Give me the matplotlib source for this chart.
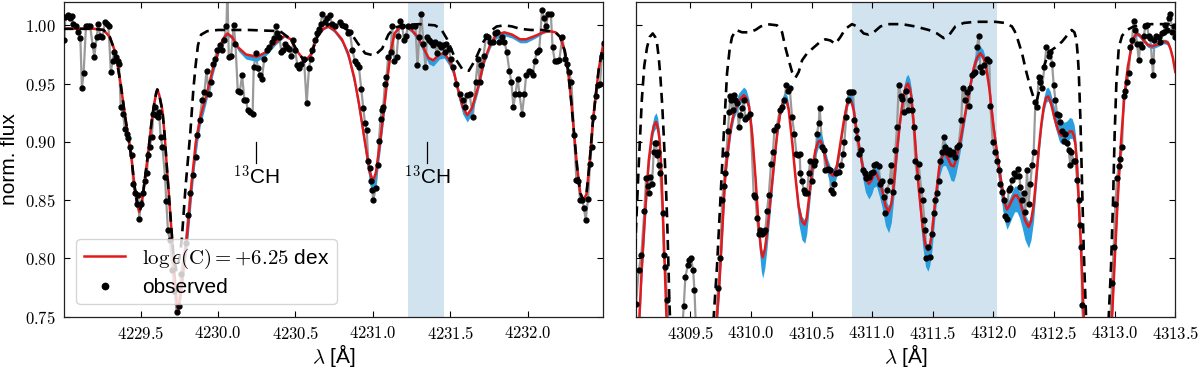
import matplotlib
matplotlib.use("Agg")
import matplotlib.pyplot as plt
from matplotlib.ticker import MultipleLocator, FuncFormatter
import numpy as np

plt.rcParams['font.family'] = ['Liberation Sans', 'DejaVu Sans']
plt.rcParams['mathtext.fontset'] = 'cm'

# ---------------- LEFT PANEL DATA ----------------
obs_l_wl = [4229.006, 4229.013, 4229.028, 4229.045, 4229.056, 4229.064, 4229.082, 4229.097, 4229.110, 4229.120,
            4229.131, 4229.146, 4229.161, 4229.174, 4229.189, 4229.200, 4229.215, 4229.227, 4229.238, 4229.253,
            4229.268, 4229.279, 4229.292, 4229.307, 4229.318, 4229.328, 4229.339, 4229.350, 4229.360, 4229.371,
            4229.386, 4229.397, 4229.410, 4229.420, 4229.431, 4229.442, 4229.451, 4229.464, 4229.474, 4229.485,
            4229.490, 4229.500, 4229.515, 4229.528, 4229.539, 4229.550, 4229.558, 4229.571, 4229.582, 4229.592,
            4229.600, 4229.612, 4229.618, 4229.629, 4229.640, 4229.657, 4229.665, 4229.676, 4229.687, 4229.705,
            4229.718, 4229.732, 4229.747, 4229.760, 4229.790, 4229.807, 4229.820, 4229.835, 4229.854, 4229.865,
            4229.880, 4229.897, 4229.912, 4229.925, 4229.940, 4229.955, 4229.966, 4229.979, 4229.994, 4230.011,
            4230.026, 4230.037, 4230.054, 4230.060, 4230.069, 4230.084, 4230.101, 4230.112, 4230.127, 4230.140,
            4230.155, 4230.170, 4230.181, 4230.191, 4230.208, 4230.223, 4230.230, 4230.245, 4230.256, 4230.273,
            4230.283, 4230.298, 4230.315, 4230.330, 4230.346, 4230.360, 4230.374, 4230.382, 4230.396, 4230.409,
            4230.422, 4230.433, 4230.448, 4230.458, 4230.473, 4230.486, 4230.497, 4230.512, 4230.525, 4230.538,
            4230.555, 4230.572, 4230.587, 4230.598, 4230.608, 4230.624, 4230.637, 4230.652, 4230.663, 4230.673,
            4230.688, 4230.705, 4230.724, 4230.734, 4230.756, 4230.788, 4230.803, 4230.820, 4230.837, 4230.852,
            4230.867, 4230.884, 4230.900, 4230.910, 4230.925, 4230.938, 4230.949, 4230.960, 4230.970, 4230.980,
            4230.988, 4230.996, 4231.002, 4231.018, 4231.030, 4231.039, 4231.050, 4231.056, 4231.067, 4231.078,
            4231.088, 4231.099, 4231.114, 4231.125, 4231.138, 4231.153, 4231.164, 4231.176, 4231.189, 4231.202,
            4231.213, 4231.228, 4231.250, 4231.275, 4231.288, 4231.300, 4231.313, 4231.327, 4231.340, 4231.350,
            4231.360, 4231.374, 4231.389, 4231.400, 4231.412, 4231.425, 4231.438, 4231.450, 4231.464, 4231.475,
            4231.490, 4231.503, 4231.518, 4231.540, 4231.560, 4231.582, 4231.597, 4231.608, 4231.625, 4231.646,
            4231.664, 4231.679, 4231.689, 4231.700, 4231.715, 4231.732, 4231.743, 4231.758, 4231.775, 4231.786,
            4231.801, 4231.818, 4231.833, 4231.850, 4231.865, 4231.882, 4231.895, 4231.908, 4231.921, 4231.936,
            4231.947, 4231.964, 4231.979, 4231.990, 4232.007, 4232.022, 4232.032, 4232.047, 4232.058, 4232.075,
            4232.093, 4232.107, 4232.118, 4232.133, 4232.150, 4232.161, 4232.176, 4232.189, 4232.204, 4232.225,
            4232.242, 4232.257, 4232.268, 4232.283, 4232.300, 4232.315, 4232.328, 4232.339, 4232.354, 4232.364,
            4232.375, 4232.390, 4232.403, 4232.413, 4232.424, 4232.439, 4232.455, 4232.468, 4232.479, 4232.495]
obs_l_fl = [0.987, 1.007, 1.009, 1.006, 1.008, 1.001, 0.999, 0.994, 0.989, 0.946,
            0.959, 0.999, 0.999, 0.999, 0.983, 0.973, 0.990, 1.001, 0.991, 0.990,
            1.003, 1.001, 0.999, 0.960, 0.969, 0.977, 0.973, 0.969, 0.967, 0.930,
            0.924, 0.911, 0.907, 0.903, 0.896, 0.889, 0.864, 0.856, 0.847, 0.854,
            0.834, 0.847, 0.856, 0.866, 0.873, 0.889, 0.896, 0.904, 0.924, 0.930,
            0.923, 0.921, 0.926, 0.904, 0.896, 0.870, 0.849, 0.824, 0.816, 0.790,
            0.772, 0.754, 0.759, 0.787, 0.813, 0.837, 0.856, 0.872, 0.887, 0.906,
            0.919, 0.936, 0.943, 0.961, 0.941, 0.951, 0.967, 0.971, 0.979, 0.983,
            0.979, 0.987, 0.999, 1.030, 0.973, 0.974, 1.000, 0.984, 0.944, 0.943,
            0.957, 0.936, 0.936, 0.927, 0.926, 0.924, 0.964, 0.976, 0.963, 0.957,
            0.954, 0.971, 0.979, 0.981, 0.986, 0.989, 0.999, 0.993, 0.990, 0.977,
            0.979, 0.984, 0.981, 0.980, 0.974, 0.987, 0.979, 0.966, 0.963, 0.967,
            0.971, 0.933, 0.963, 0.971, 0.979, 0.987, 0.993, 0.997, 1.001, 1.010,
            1.003, 1.006, 1.009, 1.001, 0.999, 1.003, 1.000, 0.999, 0.993, 0.994,
            0.979, 0.969, 0.967, 0.964, 0.945, 0.929, 0.916, 0.910, 0.884, 0.878,
            0.866, 0.859, 0.850, 0.860, 0.880, 0.901, 0.920, 0.927, 0.930, 0.950,
            0.956, 0.973, 0.977, 0.999, 0.969, 0.973, 0.991, 1.004, 0.999, 0.987,
            0.991, 0.999, 0.999, 0.999, 0.966, 0.990, 1.010, 0.984, 0.964, 0.990,
            0.987, 0.986, 0.983, 0.986, 0.976, 0.984, 0.981, 0.983, 0.977, 0.984,
            0.980, 0.971, 0.964, 0.950, 0.941, 0.936, 0.930, 0.940, 0.941, 0.921,
            0.951, 0.971, 0.951, 0.966, 0.974, 0.991, 0.990, 0.986, 0.986, 0.993,
            0.994, 0.986, 0.990, 0.986, 0.977, 0.961, 0.951, 0.930, 0.941, 0.954,
            0.941, 0.924, 0.941, 0.957, 0.961, 0.960, 0.957, 0.969, 0.977, 0.979,
            1.013, 1.006, 0.999, 1.010, 1.010, 0.981, 0.969, 0.969, 0.970, 0.990,
            0.971, 0.967, 0.960, 0.951, 0.906, 0.867, 0.866, 0.850, 0.850, 0.843,
            0.833, 0.851, 0.881, 0.896, 0.921, 0.939, 0.949, 0.950, 0.974, 0.985]

model_l_wl = [4229.00, 4229.10, 4229.20, 4229.26, 4229.30, 4229.33, 4229.35, 4229.37, 4229.40, 4229.42,
              4229.44, 4229.46, 4229.48, 4229.49, 4229.505, 4229.52, 4229.54, 4229.555, 4229.57, 4229.585,
              4229.60, 4229.607, 4229.62, 4229.64, 4229.655, 4229.67, 4229.69, 4229.715, 4229.735, 4229.745,
              4229.76, 4229.78, 4229.80, 4229.83, 4229.855, 4229.885, 4229.92, 4229.96, 4230.00, 4230.03,
              4230.06, 4230.09, 4230.13, 4230.18, 4230.25, 4230.31, 4230.37, 4230.43, 4230.47, 4230.51,
              4230.56, 4230.60, 4230.64, 4230.68, 4230.71, 4230.75, 4230.80, 4230.84, 4230.88, 4230.91,
              4230.95, 4230.98, 4231.00, 4231.02, 4231.046, 4231.07, 4231.09, 4231.115, 4231.14, 4231.17,
              4231.21, 4231.25, 4231.29, 4231.33, 4231.36, 4231.39, 4231.43, 4231.46, 4231.49, 4231.52,
              4231.55, 4231.58, 4231.61, 4231.64, 4231.68, 4231.72, 4231.76, 4231.80, 4231.85, 4231.90,
              4231.95, 4231.99, 4232.05, 4232.10, 4232.14, 4232.18, 4232.21, 4232.24, 4232.26, 4232.28,
              4232.30, 4232.32, 4232.34, 4232.36, 4232.38, 4232.40, 4232.42, 4232.44, 4232.46, 4232.49]
model_l_fl = [0.997, 0.997, 0.997, 0.996, 0.990, 0.979, 0.966, 0.950, 0.921, 0.904,
              0.886, 0.862, 0.845, 0.840, 0.845, 0.861, 0.882, 0.899, 0.917, 0.931,
              0.942, 0.945, 0.940, 0.927, 0.905, 0.876, 0.840, 0.793, 0.758, 0.757,
              0.772, 0.797, 0.821, 0.866, 0.899, 0.921, 0.938, 0.959, 0.977, 0.988,
              0.993, 0.990, 0.981, 0.975, 0.973, 0.977, 0.985, 0.991, 0.988, 0.978,
              0.969, 0.975, 0.990, 0.997, 0.999, 0.996, 0.988, 0.976, 0.955, 0.933,
              0.899, 0.874, 0.866, 0.874, 0.899, 0.926, 0.950, 0.977, 0.993, 0.998,
              0.999, 0.996, 0.990, 0.980, 0.972, 0.970, 0.975, 0.976, 0.971, 0.962,
              0.945, 0.930, 0.923, 0.929, 0.947, 0.970, 0.984, 0.992, 0.994, 0.992,
              0.988, 0.988, 0.991, 0.994, 0.995, 0.994, 0.990, 0.978, 0.962, 0.937,
              0.907, 0.878, 0.856, 0.850, 0.855, 0.882, 0.915, 0.940, 0.963, 0.985]
spread_l_dn = [0, 0, 0, 0, 0, 0, 0, 0, 0, 0,
               0, 0, 0, 0, 0, 0, 0, 0, 0, 0,
               0, 0, 0, 0, 0, 0, 0, 0.001, 0.003, 0.004,
               0.006, 0.010, 0.012, 0.012, 0.010, 0.007, 0.006, 0.005, 0.003, 0.002,
               0.002, 0.002, 0.003, 0.004, 0.004, 0.003, 0.002, 0.001, 0.001, 0.001,
               0.001, 0.001, 0.001, 0.001, 0.001, 0.002, 0.003, 0.005, 0.007, 0.008,
               0.009, 0.010, 0.011, 0.010, 0.008, 0.006, 0.004, 0.002, 0.001, 0.001,
               0.001, 0.002, 0.003, 0.004, 0.005, 0.005, 0.004, 0.004, 0.005, 0.005,
               0.006, 0.006, 0.006, 0.005, 0.004, 0.003, 0.003, 0.003, 0.003, 0.003,
               0.003, 0.003, 0.002, 0.001, 0, 0, 0, 0, 0, 0,
               0, 0, 0, 0, 0, 0, 0, 0, 0, 0]
spread_l_up = [0, 0, 0, 0, 0, 0, 0, 0, 0, 0,
               0, 0, 0, 0, 0, 0, 0, 0, 0, 0,
               0, 0, 0, 0, 0, 0, 0, 0, 0, 0,
               0, 0, 0, 0, 0, 0, 0, 0, 0, 0,
               0, 0, 0, 0, 0, 0, 0, 0, 0, 0,
               0, 0, 0, 0, 0, 0, 0, 0, 0.001, 0.001,
               0.002, 0.003, 0.003, 0.003, 0.002, 0.001, 0.001, 0, 0, 0,
               0, 0, 0, 0, 0, 0, 0, 0, 0, 0,
               0, 0.001, 0.001, 0.001, 0, 0, 0, 0, 0, 0,
               0, 0, 0, 0, 0, 0, 0, 0, 0, 0,
               0, 0, 0, 0, 0, 0, 0, 0, 0, 0]

nocarbon_l_wl = [4229.00, 4229.10, 4229.20, 4229.26, 4229.30, 4229.33, 4229.35, 4229.37, 4229.40, 4229.42,
                 4229.44, 4229.46, 4229.48, 4229.49, 4229.505, 4229.52, 4229.54, 4229.555, 4229.57, 4229.585,
                 4229.60, 4229.607, 4229.62, 4229.64, 4229.655, 4229.67, 4229.69, 4229.71, 4229.73, 4229.75,
                 4229.765, 4229.79, 4229.82, 4229.84, 4229.855, 4229.87, 4229.89, 4229.93, 4230.00, 4230.20,
                 4230.40, 4230.44, 4230.47, 4230.51, 4230.56, 4230.60, 4230.64, 4230.68, 4230.72, 4230.80,
                 4230.85, 4230.90, 4230.95, 4231.01, 4231.06, 4231.10, 4231.14, 4231.20, 4231.30, 4231.40,
                 4231.44, 4231.48, 4231.53, 4231.58, 4231.62, 4231.66, 4231.71, 4231.76, 4231.80, 4231.85,
                 4231.90, 4231.95, 4232.02, 4232.10, 4232.14, 4232.18, 4232.21, 4232.24, 4232.26, 4232.28,
                 4232.30, 4232.32, 4232.34, 4232.36, 4232.38, 4232.40, 4232.42, 4232.44, 4232.46, 4232.49]
nocarbon_l_fl = [0.997, 0.997, 0.997, 0.996, 0.990, 0.979, 0.966, 0.950, 0.921, 0.904,
                 0.886, 0.862, 0.845, 0.840, 0.845, 0.861, 0.882, 0.899, 0.917, 0.931,
                 0.942, 0.945, 0.940, 0.927, 0.905, 0.876, 0.840, 0.805, 0.790, 0.800,
                 0.816, 0.862, 0.907, 0.945, 0.966, 0.983, 0.992, 0.995, 0.996, 0.996,
                 0.995, 0.991, 0.988, 0.978, 0.969, 0.975, 0.990, 0.998, 1.001, 0.999,
                 0.995, 0.985, 0.976, 0.974, 0.980, 0.992, 0.998, 1.000, 1.001, 1.000,
                 0.997, 0.988, 0.972, 0.962, 0.961, 0.970, 0.985, 0.995, 0.999, 1.000,
                 0.999, 0.997, 0.996, 0.996, 0.995, 0.994, 0.990, 0.978, 0.962, 0.937,
                 0.907, 0.878, 0.856, 0.850, 0.855, 0.882, 0.915, 0.940, 0.963, 0.985]

# ---------------- RIGHT PANEL DATA ----------------
obs_r_wl = [4309.040, 4309.052, 4309.075, 4309.096, 4309.121, 4309.135, 4309.148, 4309.157, 4309.170, 4309.184,
            4309.198, 4309.205, 4309.217, 4309.225, 4309.231, 4309.239, 4309.253, 4309.272, 4309.281, 4309.294,
            4309.308, 4309.330, 4309.380, 4309.420, 4309.446, 4309.459, 4309.479, 4309.492, 4309.506, 4309.523,
            4309.534, 4309.550, 4309.620, 4309.700, 4309.729, 4309.748, 4309.762, 4309.775, 4309.784, 4309.798,
            4309.809, 4309.822, 4309.830, 4309.839, 4309.850, 4309.858, 4309.872, 4309.886, 4309.899, 4309.913,
            4309.927, 4309.940, 4309.954, 4309.968, 4309.995, 4310.023, 4310.037, 4310.050, 4310.064, 4310.078,
            4310.092, 4310.105, 4310.119, 4310.133, 4310.147, 4310.166, 4310.182, 4310.193, 4310.215, 4310.237,
            4310.257, 4310.276, 4310.292, 4310.306, 4310.320, 4310.339, 4310.358, 4310.375, 4310.386, 4310.402,
            4310.408, 4310.422, 4310.435, 4310.449, 4310.463, 4310.477, 4310.490, 4310.504, 4310.518, 4310.532,
            4310.545, 4310.559, 4310.567, 4310.587, 4310.600, 4310.614, 4310.633, 4310.650, 4310.660, 4310.675,
            4310.688, 4310.705, 4310.724, 4310.743, 4310.760, 4310.771, 4310.785, 4310.798, 4310.812, 4310.826,
            4310.842, 4310.853, 4310.864, 4310.875, 4310.889, 4310.908, 4310.925, 4310.938, 4310.952, 4310.972,
            4310.990, 4311.007, 4311.018, 4311.035, 4311.054, 4311.068, 4311.081, 4311.095, 4311.109, 4311.123,
            4311.145, 4311.158, 4311.172, 4311.191, 4311.205, 4311.219, 4311.238, 4311.246, 4311.260, 4311.279,
            4311.295, 4311.315, 4311.328, 4311.342, 4311.356, 4311.370, 4311.383, 4311.405, 4311.416, 4311.430,
            4311.438, 4311.446, 4311.460, 4311.480, 4311.493, 4311.507, 4311.521, 4311.535, 4311.548, 4311.562,
            4311.576, 4311.590, 4311.603, 4311.617, 4311.631, 4311.645, 4311.664, 4311.686, 4311.700, 4311.713,
            4311.735, 4311.746, 4311.763, 4311.782, 4311.796, 4311.810, 4311.823, 4311.837, 4311.851, 4311.865,
            4311.878, 4311.892, 4311.906, 4311.920, 4311.947, 4311.966, 4311.975, 4311.994, 4312.010, 4312.030,
            4312.043, 4312.057, 4312.071, 4312.084, 4312.098, 4312.112, 4312.126, 4312.139, 4312.153, 4312.167,
            4312.186, 4312.203, 4312.214, 4312.222, 4312.236, 4312.250, 4312.263, 4312.277, 4312.290, 4312.304,
            4312.318, 4312.332, 4312.346, 4312.359, 4312.374, 4312.387, 4312.401, 4312.420, 4312.437, 4312.456,
            4312.470, 4312.484, 4312.497, 4312.511, 4312.525, 4312.539, 4312.552, 4312.566, 4312.580, 4312.594,
            4312.607, 4312.621, 4312.635, 4312.643, 4312.662, 4312.676, 4312.690, 4312.704, 4312.712, 4312.726,
            4312.731, 4312.760, 4312.850, 4312.950, 4312.979, 4312.992, 4313.006, 4313.020, 4313.033, 4313.047,
            4313.061, 4313.075, 4313.088, 4313.102, 4313.116, 4313.130, 4313.143, 4313.157, 4313.171, 4313.185,
            4313.199, 4313.212, 4313.226, 4313.240, 4313.253, 4313.267, 4313.281, 4313.295, 4313.308, 4313.317,
            4313.328, 4313.344, 4313.363, 4313.377, 4313.391, 4313.405, 4313.418, 4313.432, 4313.446, 4313.460,
            4313.473, 4313.487, 4313.500]
obs_r_fl = [0.720, 0.761, 0.790, 0.803, 0.841, 0.869, 0.862, 0.856, 0.870, 0.864,
            0.891, 0.899, 0.899, 0.889, 0.891, 0.880, 0.873, 0.839, 0.803, 0.793,
            0.764, 0.720, 0.700, 0.720, 0.759, 0.784, 0.794, 0.799, 0.800, 0.790,
            0.773, 0.730, 0.700, 0.720, 0.775, 0.800, 0.850, 0.862, 0.873, 0.890,
            0.909, 0.926, 0.939, 0.936, 0.927, 0.940, 0.936, 0.933, 0.913, 0.923,
            0.929, 0.936, 0.920, 0.921, 0.924, 0.854, 0.853, 0.835, 0.821, 0.824,
            0.821, 0.823, 0.824, 0.841, 0.854, 0.881, 0.891, 0.910, 0.914, 0.927,
            0.930, 0.936, 0.949, 0.944, 0.946, 0.921, 0.907, 0.890, 0.889, 0.890,
            0.873, 0.866, 0.859, 0.856, 0.856, 0.873, 0.884, 0.866, 0.880, 0.884,
            0.907, 0.916, 0.929, 0.896, 0.893, 0.876, 0.877, 0.876, 0.859, 0.856,
            0.864, 0.873, 0.874, 0.880, 0.890, 0.900, 0.921, 0.936, 0.943, 0.943,
            0.943, 0.919, 0.910, 0.903, 0.890, 0.893, 0.876, 0.873, 0.869, 0.870,
            0.873, 0.874, 0.880, 0.881, 0.879, 0.864, 0.866, 0.853, 0.839, 0.859,
            0.866, 0.880, 0.857, 0.893, 0.913, 0.949, 0.939, 0.937, 0.926, 0.944,
            0.927, 0.936, 0.927, 0.913, 0.884, 0.870, 0.881, 0.859, 0.850, 0.833,
            0.824, 0.800, 0.810, 0.801, 0.821, 0.839, 0.850, 0.856, 0.866, 0.884,
            0.891, 0.904, 0.896, 0.891, 0.893, 0.890, 0.891, 0.887, 0.896, 0.897,
            0.919, 0.946, 0.936, 0.943, 0.931, 0.946, 0.957, 0.959, 0.960, 0.981,
            0.991, 0.964, 0.960, 0.966, 0.971, 0.969, 0.931, 0.900, 0.891, 0.884,
            0.876, 0.864, 0.857, 0.850, 0.836, 0.834, 0.859, 0.860, 0.867, 0.873,
            0.871, 0.877, 0.871, 0.861, 0.850, 0.856, 0.840, 0.876, 0.847, 0.864,
            0.880, 0.891, 0.934, 0.930, 0.956, 0.951, 0.946, 0.964, 0.981, 0.974,
            0.977, 0.967, 0.949, 0.936, 0.924, 0.923, 0.917, 0.909, 0.901, 0.907,
            0.899, 0.893, 0.880, 0.891, 0.884, 0.884, 0.867, 0.850, 0.829, 0.810,
            0.760, 0.720, 0.700, 0.720, 0.779, 0.810, 0.847, 0.869, 0.879, 0.885,
            0.896, 0.939, 0.944, 0.951, 0.959, 0.981, 0.987, 1.004, 0.996, 0.984,
            0.970, 0.984, 0.981, 0.991, 0.999, 1.000, 0.991, 0.989, 0.969, 0.957,
            0.987, 0.991, 0.990, 0.986, 0.993, 0.994, 1.000, 0.996, 1.006, 1.010,
            0.994, 0.999, 0.990]

model_r_wl = [4309.05, 4309.08, 4309.10, 4309.13, 4309.157, 4309.184, 4309.20, 4309.217, 4309.23, 4309.245,
              4309.26, 4309.28, 4309.303, 4309.33, 4309.70, 4309.72, 4309.74, 4309.762, 4309.789, 4309.81,
              4309.835, 4309.86, 4309.90, 4309.94, 4309.96, 4309.985, 4310.01, 4310.037, 4310.064, 4310.085,
              4310.097, 4310.115, 4310.133, 4310.16, 4310.188, 4310.215, 4310.243, 4310.265, 4310.284, 4310.30,
              4310.312, 4310.339, 4310.367, 4310.394, 4310.42, 4310.444, 4310.46, 4310.477, 4310.504, 4310.532,
              4310.555, 4310.573, 4310.59, 4310.61, 4310.633, 4310.655, 4310.677, 4310.695, 4310.71, 4310.738,
              4310.771, 4310.795, 4310.815, 4310.83, 4310.848, 4310.875, 4310.90, 4310.925, 4310.944, 4310.972,
              4310.995, 4311.013, 4311.035, 4311.06, 4311.081, 4311.11, 4311.136, 4311.158, 4311.178, 4311.20,
              4311.213, 4311.23, 4311.246, 4311.265, 4311.28, 4311.295, 4311.31, 4311.323, 4311.35, 4311.383,
              4311.416, 4311.44, 4311.46, 4311.475, 4311.493, 4311.521, 4311.554, 4311.58, 4311.603, 4311.625,
              4311.65, 4311.672, 4311.69, 4311.713, 4311.735, 4311.755, 4311.796, 4311.837, 4311.865, 4311.892,
              4311.915, 4311.94, 4311.966, 4311.985, 4312.002, 4312.038, 4312.071, 4312.092, 4312.112, 4312.13,
              4312.153, 4312.175, 4312.194, 4312.215, 4312.236, 4312.26, 4312.29, 4312.31, 4312.332, 4312.35,
              4312.373, 4312.395, 4312.415, 4312.435, 4312.451, 4312.47, 4312.484, 4312.505, 4312.525, 4312.545,
              4312.566, 4312.59, 4312.607, 4312.63, 4312.649, 4312.665, 4312.676, 4312.69, 4312.704, 4312.715,
              4312.726, 4312.745, 4312.76, 4312.965, 4312.979, 4312.998, 4313.025, 4313.053, 4313.08, 4313.108,
              4313.143, 4313.165, 4313.185, 4313.21, 4313.24, 4313.275, 4313.308, 4313.34, 4313.363, 4313.39,
              4313.418, 4313.44, 4313.46, 4313.48, 4313.50]
model_r_fl = [0.700, 0.750, 0.793, 0.844, 0.884, 0.907, 0.914, 0.917, 0.913, 0.903,
              0.879, 0.821, 0.750, 0.700, 0.700, 0.750, 0.779, 0.821, 0.873, 0.893,
              0.913, 0.925, 0.935, 0.940, 0.938, 0.930, 0.907, 0.870, 0.827, 0.806,
              0.801, 0.808, 0.822, 0.850, 0.879, 0.906, 0.926, 0.934, 0.936, 0.933,
              0.927, 0.901, 0.870, 0.844, 0.832, 0.829, 0.835, 0.850, 0.876, 0.893,
              0.900, 0.901, 0.897, 0.888, 0.879, 0.873, 0.871, 0.874, 0.880, 0.899,
              0.921, 0.933, 0.937, 0.934, 0.927, 0.907, 0.891, 0.877, 0.869, 0.864,
              0.867, 0.872, 0.873, 0.866, 0.859, 0.845, 0.840, 0.847, 0.863, 0.888,
              0.901, 0.918, 0.930, 0.942, 0.948, 0.950, 0.946, 0.939, 0.907, 0.861,
              0.827, 0.811, 0.807, 0.811, 0.822, 0.850, 0.879, 0.888, 0.890, 0.886,
              0.880, 0.879, 0.884, 0.894, 0.905, 0.917, 0.941, 0.963, 0.972, 0.976,
              0.973, 0.964, 0.946, 0.928, 0.912, 0.884, 0.861, 0.848, 0.842, 0.845,
              0.850, 0.854, 0.854, 0.850, 0.843, 0.833, 0.827, 0.832, 0.846, 0.866,
              0.893, 0.915, 0.930, 0.938, 0.939, 0.935, 0.929, 0.920, 0.913, 0.907,
              0.905, 0.905, 0.906, 0.909, 0.909, 0.905, 0.898, 0.880, 0.850, 0.825,
              0.799, 0.750, 0.700, 0.700, 0.750, 0.793, 0.850, 0.901, 0.939, 0.964,
              0.984, 0.991, 0.993, 0.991, 0.987, 0.983, 0.982, 0.983, 0.984, 0.986,
              0.986, 0.985, 0.980, 0.972, 0.960]
spread_r_dn = [0.010, 0.012, 0.012, 0.010, 0.008, 0.006, 0.005, 0.005, 0.005, 0.006,
               0.008, 0.010, 0.012, 0.010, 0.010, 0.010, 0.010, 0.010, 0.008, 0.007,
               0.006, 0.005, 0.004, 0.004, 0.004, 0.005, 0.007, 0.010, 0.014, 0.017,
               0.018, 0.016, 0.013, 0.010, 0.007, 0.005, 0.004, 0.003, 0.003, 0.003,
               0.004, 0.007, 0.010, 0.014, 0.016, 0.016, 0.014, 0.011, 0.008, 0.006,
               0.005, 0.005, 0.006, 0.007, 0.008, 0.009, 0.009, 0.008, 0.007, 0.005,
               0.004, 0.003, 0.003, 0.003, 0.004, 0.006, 0.008, 0.010, 0.012, 0.013,
               0.012, 0.011, 0.011, 0.013, 0.015, 0.017, 0.018, 0.016, 0.012, 0.009,
               0.008, 0.006, 0.005, 0.004, 0.004, 0.004, 0.004, 0.005, 0.008, 0.012,
               0.016, 0.018, 0.018, 0.017, 0.015, 0.011, 0.009, 0.009, 0.010, 0.011,
               0.013, 0.013, 0.012, 0.010, 0.008, 0.006, 0.004, 0.003, 0.003, 0.003,
               0.003, 0.004, 0.005, 0.006, 0.008, 0.012, 0.015, 0.016, 0.017, 0.016,
               0.015, 0.014, 0.014, 0.015, 0.016, 0.017, 0.018, 0.016, 0.013, 0.010,
               0.008, 0.006, 0.005, 0.004, 0.004, 0.004, 0.005, 0.006, 0.006, 0.007,
               0.007, 0.007, 0.007, 0.006, 0.006, 0.006, 0.006, 0.007, 0.008, 0.008,
               0.008, 0.008, 0.008, 0.008, 0.006, 0.006, 0.006, 0.005, 0.004, 0.003,
               0.002, 0.002, 0.002, 0.002, 0.002, 0.002, 0.002, 0.002, 0.002, 0.002,
               0.002, 0.002, 0.002, 0.002, 0.002]
spread_r_up = [0.010, 0.004, 0.004, 0.005, 0.006, 0.007, 0.008, 0.008, 0.008, 0.007,
               0.006, 0.005, 0.004, 0.010, 0.010, 0.004, 0.005, 0.006, 0.006, 0.007,
               0.007, 0.007, 0.007, 0.007, 0.007, 0.006, 0.005, 0.004, 0.004, 0.004,
               0.004, 0.004, 0.004, 0.005, 0.005, 0.006, 0.006, 0.006, 0.006, 0.006,
               0.005, 0.005, 0.004, 0.004, 0.004, 0.004, 0.004, 0.004, 0.005, 0.007,
               0.008, 0.008, 0.007, 0.006, 0.006, 0.006, 0.006, 0.006, 0.006, 0.006,
               0.007, 0.007, 0.007, 0.007, 0.006, 0.005, 0.005, 0.005, 0.005, 0.006,
               0.007, 0.007, 0.007, 0.006, 0.005, 0.005, 0.005, 0.005, 0.006, 0.007,
               0.007, 0.008, 0.008, 0.008, 0.008, 0.008, 0.008, 0.007, 0.006, 0.005,
               0.004, 0.004, 0.004, 0.004, 0.004, 0.005, 0.007, 0.009, 0.010, 0.010,
               0.009, 0.008, 0.007, 0.006, 0.006, 0.006, 0.007, 0.007, 0.007, 0.006,
               0.006, 0.006, 0.006, 0.006, 0.005, 0.005, 0.005, 0.005, 0.005, 0.006,
               0.007, 0.008, 0.008, 0.007, 0.006, 0.005, 0.005, 0.005, 0.006, 0.006,
               0.007, 0.008, 0.008, 0.008, 0.008, 0.008, 0.008, 0.009, 0.010, 0.011,
               0.012, 0.012, 0.012, 0.012, 0.011, 0.010, 0.009, 0.008, 0.007, 0.006,
               0.005, 0.005, 0.005, 0.005, 0.004, 0.004, 0.004, 0.003, 0.003, 0.002,
               0.002, 0.002, 0.002, 0.002, 0.002, 0.002, 0.002, 0.002, 0.002, 0.002,
               0.002, 0.002, 0.002, 0.002, 0.002]

nocarbon_r_wl = [4309.03, 4309.05, 4309.074, 4309.10, 4309.12, 4309.143, 4309.165, 4309.19, 4309.21, 4309.226,
                 4309.24, 4309.253, 4309.268, 4309.28, 4309.295, 4309.308, 4309.318, 4309.327, 4309.332, 4309.34,
                 4309.68, 4309.693, 4309.72, 4309.748, 4309.776, 4309.803, 4309.825, 4309.844, 4309.877, 4309.927,
                 4309.982, 4310.037, 4310.08, 4310.133, 4310.215, 4310.24, 4310.257, 4310.284, 4310.312, 4310.339,
                 4310.367, 4310.394, 4310.422, 4310.463, 4310.518, 4310.573, 4310.614, 4310.655, 4310.697, 4310.738,
                 4310.779, 4310.834, 4310.875, 4310.93, 4310.971, 4311.013, 4311.068, 4311.123, 4311.246, 4311.356,
                 4311.466, 4311.535, 4311.59, 4311.63, 4311.686, 4311.755, 4311.85, 4312.016, 4312.098, 4312.153,
                 4312.175, 4312.194, 4312.236, 4312.269, 4312.304, 4312.337, 4312.357, 4312.38, 4312.415, 4312.456,
                 4312.511, 4312.566, 4312.621, 4312.646, 4312.668, 4312.684, 4312.695, 4312.704, 4312.717, 4312.731,
                 4312.745, 4312.764, 4312.77, 4312.945, 4312.951, 4312.97, 4312.987, 4313.00, 4313.014, 4313.034,
                 4313.061, 4313.102, 4313.157, 4313.212, 4313.30, 4313.40, 4313.50]
nocarbon_r_fl = [0.780, 0.821, 0.879, 0.936, 0.965, 0.981, 0.990, 0.993, 0.990, 0.984,
                 0.972, 0.956, 0.932, 0.907, 0.872, 0.836, 0.800, 0.764, 0.750, 0.700,
                 0.700, 0.750, 0.793, 0.850, 0.907, 0.959, 0.980, 0.990, 0.996, 0.994,
                 0.994, 0.996, 0.999, 1.001, 1.000, 0.997, 0.994, 0.981, 0.970, 0.960,
                 0.955, 0.960, 0.970, 0.976, 0.981, 0.986, 0.988, 0.987, 0.984, 0.990,
                 0.997, 1.001, 0.999, 0.993, 0.992, 0.994, 0.999, 1.001, 1.001, 0.999,
                 0.996, 0.993, 0.989, 0.991, 0.999, 1.002, 1.003, 1.003, 1.002, 0.999,
                 0.995, 0.990, 0.976, 0.961, 0.947, 0.936, 0.935, 0.945, 0.964, 0.977,
                 0.981, 0.986, 0.993, 0.996, 0.994, 0.988, 0.975, 0.960, 0.921, 0.864,
                 0.807, 0.750, 0.700, 0.700, 0.750, 0.793, 0.850, 0.907, 0.950, 0.981,
                 0.991, 0.996, 0.999, 1.000, 1.001, 1.001, 1.001]

# ---------------- ANNOTATIONS / SPANS ----------------
span_l = (4231.23, 4231.46)
span_r = (4310.83, 4312.03)
ch13_l = [4230.247, 4231.352]
xlim_l = (4229.004, 4232.49)
xlim_r = (4309.05, 4313.5)
ylim = (0.75, 1.02)
legend_label = r"$\log\epsilon(\mathrm{C}) = +6.25$ dex"

RED = "#e31a1c"
BAND = "#2a9ede"
GRAY = "#9a9a9a"

fig = plt.figure(figsize=(12, 3.69), dpi=100)
axL = fig.add_axes([0.0533, 0.1417, 0.4496, 0.8529])
axR = fig.add_axes([0.5298, 0.1417, 0.4496, 0.8529])


def draw(ax, obs_wl, obs_fl, m_wl, m_fl, dn, up, nc_wl, nc_fl, span, xlim):
    ax.axvspan(span[0], span[1], color="C0", alpha=0.2, lw=0, zorder=0)
    ax.plot(obs_wl, obs_fl, color=GRAY, lw=1.6, zorder=1)
    m_wl = np.asarray(m_wl); m_fl = np.asarray(m_fl)
    ax.fill_between(m_wl, m_fl - np.asarray(dn), m_fl + np.asarray(up),
                    color=BAND, lw=0, zorder=2)
    ax.plot(m_wl, m_fl, color=RED, lw=1.8, zorder=3, label=legend_label)
    ax.plot(nc_wl, nc_fl, color="black", lw=1.9, ls=(0, (3.8, 2.4)), zorder=4)
    ax.plot(obs_wl, obs_fl, "o", color="black", ms=3.5, lw=0, zorder=5, label="observed")
    ax.set_xlim(*xlim)
    ax.set_ylim(*ylim)
    ax.xaxis.set_major_locator(MultipleLocator(0.5))
    ax.yaxis.set_major_locator(MultipleLocator(0.05))
    ax.xaxis.set_major_formatter(FuncFormatter(lambda v, p: f"${v:.1f}$"))
    ax.yaxis.set_major_formatter(FuncFormatter(lambda v, p: f"${v:.2f}$"))
    ax.tick_params(direction="in", top=True, right=True, length=4, width=0.8,
                   labelsize=12, pad=6)
    ax.set_xlabel(r"$\lambda$ [Å]", fontsize=15, labelpad=0)
    for s in ax.spines.values():
        s.set_color("#222222")
        s.set_linewidth(0.9)


draw(axL, obs_l_wl, obs_l_fl, model_l_wl, model_l_fl, spread_l_dn, spread_l_up,
     nocarbon_l_wl, nocarbon_l_fl, span_l, xlim_l)
draw(axR, obs_r_wl, obs_r_fl, model_r_wl, model_r_fl, spread_r_dn, spread_r_up,
     nocarbon_r_wl, nocarbon_r_fl, span_r, xlim_r)

axL.set_ylabel("norm. flux", fontsize=15, labelpad=4)
axR.tick_params(labelleft=False)

for xc in ch13_l:
    axL.plot([xc, xc], [0.882, 0.900], color="black", lw=0.9, zorder=6)
    axL.text(xc, 0.8805, r"$^{13}$CH", ha="center", va="top", fontsize=15, zorder=6)

axL.legend(loc="lower left", fontsize=15, handlelength=2.0, borderaxespad=0.6,
           labelspacing=0.35, handletextpad=0.8, borderpad=0.35, markerscale=1.3)

fig.savefig("out.png", dpi=100)
